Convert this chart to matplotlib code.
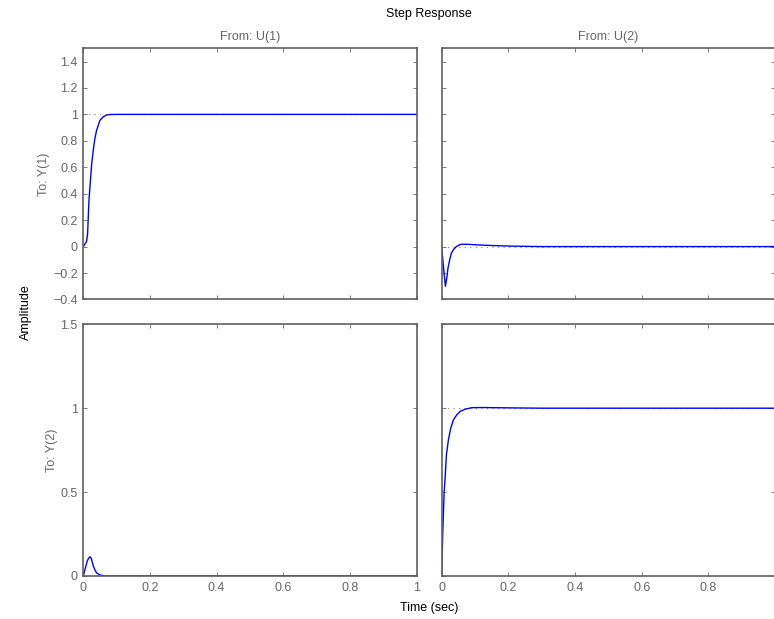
import matplotlib.pyplot as plt
import numpy as np

plt.rcParams['font.family'] = ['Liberation Sans', 'DejaVu Sans']
plt.rcParams['font.size'] = 9

# step response samples (time in sec)
t11 = [0, 0.005, 0.010, 0.013, 0.017, 0.020, 0.025, 0.030, 0.035, 0.040, 0.050, 0.060, 0.070, 0.080, 0.100, 1.0]
y11 = [0, 0.02, 0.04, 0.10, 0.35, 0.45, 0.62, 0.73, 0.82, 0.88, 0.955, 0.982, 0.995, 0.999, 1.0, 1.0]

t12 = [0, 0.004, 0.007, 0.011, 0.015, 0.019, 0.024, 0.029, 0.036, 0.044, 0.052, 0.060, 0.080, 0.100, 0.150, 0.200, 0.300, 1.0]
y12 = [0, -0.12, -0.20, -0.30, -0.24, -0.16, -0.10, -0.05, -0.02, 0.0, 0.012, 0.018, 0.017, 0.014, 0.008, 0.004, 0.0, 0.0]

t21 = [0, 0.004, 0.008, 0.012, 0.016, 0.020, 0.024, 0.030, 0.035, 0.040, 0.050, 0.060, 0.070, 1.0]
y21 = [0, 0.03, 0.06, 0.09, 0.105, 0.115, 0.105, 0.06, 0.036, 0.018, 0.006, 0.002, 0.0, 0.0]

t22 = [0, 0.003, 0.007, 0.010, 0.014, 0.020, 0.027, 0.035, 0.045, 0.055, 0.070, 0.090, 0.120, 0.200, 0.300, 1.0]
y22 = [0, 0.25, 0.49, 0.58, 0.72, 0.81, 0.88, 0.93, 0.96, 0.98, 0.994, 1.003, 1.004, 1.002, 1.0, 1.0]

final = [[1, 0], [0, 1]]
from_labels = ['From: U(1)', 'From: U(2)']
to_labels = ['To: Y(1)', 'To: Y(2)']
xticks = [0, 0.2, 0.4, 0.6, 0.8, 1]
row_ylim = [(-0.4, 1.5), (0, 1.5)]
row_yticks = [[-0.4, -0.2, 0, 0.2, 0.4, 0.6, 0.8, 1, 1.2, 1.4], [0, 0.5, 1, 1.5]]

data = [[(t11, y11), (t12, y12)], [(t21, y21), (t22, y22)]]

gray = '#666666'
fig = plt.figure(figsize=(7.74, 6.19), dpi=100)

lefts = [0.1076, 0.5707]
bottoms = [0.5162, 0.0695]
w = 0.4307
heights = [0.4058, 0.4066]

for r in range(2):
    for c in range(2):
        ax = fig.add_axes([lefts[c], bottoms[r], w, heights[r]])
        t, y = data[r][c]
        ax.axhline(final[r][c], color='#888888', lw=0.8, ls=(0, (1, 4)), zorder=1)
        ax.plot(t, y, color='#0000ff', lw=1.0, zorder=2)
        ax.set_xlim(0, 1)
        ax.set_ylim(*row_ylim[r])
        ax.set_xticks(xticks)
        ax.set_yticks(row_yticks[r])
        ax.set_xticklabels(['0', '0.2', '0.4', '0.6', '0.8', '1'])
        ax.set_yticklabels([('%g' % v).replace('-', '\u2212') for v in row_yticks[r]])
        ax.tick_params(direction='in', length=3, width=0.6, colors=gray,
                       top=True, right=True, labelsize=9, pad=4)
        for s in ax.spines.values():
            s.set_color('#606060')
            s.set_linewidth(1.2)
        if r == 0:
            ax.tick_params(labelbottom=False)
            ax.set_title(from_labels[c], color=gray, fontsize=9, pad=6)
        if c == 1:
            ax.tick_params(labelleft=False)
        else:
            ax.set_ylabel(to_labels[r], color=gray, fontsize=9, labelpad=2)

fig.text(0.554, 0.977, 'Step Response', ha='center', va='center', fontsize=9)
fig.text(0.554, 0.018, 'Time (sec)', ha='center', va='center', fontsize=9)
fig.text(0.034, 0.496, 'Amplitude', ha='center', va='center', rotation=90, fontsize=9)

fig.savefig('out.png', dpi=100)
